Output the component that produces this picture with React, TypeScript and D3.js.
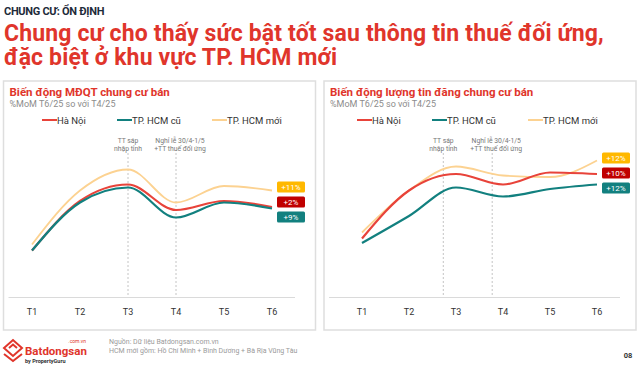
import React from 'react'
import { scaleLinear, line, curveMonotoneX } from 'd3'

const months = ['T1', 'T2', 'T3', 'T4', 'T5', 'T6']
const seriesNames = ['Hà Nội', 'TP. HCM cũ', 'TP. HCM mới']
const seriesColors = ['#e8433a', '#12807f', '#fcd291']
const badgeColors = ['#c00000', '#12807f', '#ffb800']

// index values (axis is hidden)
const priceHaNoi = [31, 64, 75, 58, 64, 60]
const priceHcmOld = [31, 63, 73, 53, 63, 59]
const priceHcmNew = [35, 71, 85, 63, 74, 71]
const priceBadges = ['+2%', '+9%', '+11%']

const listHaNoi = [39, 71, 82, 75, 83, 82]
const listHcmOld = [36, 54, 73, 67, 72, 75]
const listHcmNew = [43, 71, 87, 81, 80, 91]
const listBadges = ['+10%', '+12%', '+12%']

const notePositions = [2, 3]
const notePositionsRight = [1.73, 2.77]
const noteLeft = ['TT sáp', 'nhập tỉnh']
const noteRight = ['Nghỉ lễ 30/4-1/5', '+TT thuế đối ứng']

const font = 'Roboto, "Noto Sans", sans-serif'

function Panel({ x0, title, series, badges, notes, xStart, xEnd, legendX }) {
  const x = scaleLinear().domain([0, months.length - 1]).range([xStart, xEnd])
  const y = scaleLinear().domain([0, 100]).range([297, 147])
  const gen = line<number>()
    .x((d, i) => x(i))
    .y((d) => y(d))
    .curve(curveMonotoneX)

  // badges stacked around the mean of the line ends
  const ends = series.map((s) => y(s[s.length - 1]))
  const mean = ends.reduce((a, b) => a + b, 0) / ends.length
  const order = ends.map((v, i) => i).sort((a, b) => ends[a] - ends[b])
  const badgeY = []
  order.forEach((idx, k) => {
    badgeY[idx] = mean + (k - (order.length - 1) / 2) * 15
  })

  const drawOrder = [2, 0, 1]

  return (
    <g>
      <rect x={x0} y={81} width={312} height={249} fill="#fff" stroke="#dedede" strokeWidth={1.5} />
      <text x={x0 + 6} y={96} fontSize={11.5} fontWeight={700} fill="#e0352b">{title}</text>
      <text x={x0 + 6} y={107} fontSize={9} fill="#8c8c8c">%MoM T6/25 so với T4/25</text>
      {seriesNames.map((n, i) => (
        <g key={n} transform={`translate(${legendX[i]},120)`}>
          <line x1={0} x2={15} y1={0} y2={0} stroke={seriesColors[i]} strokeWidth={2} />
          <text x={15} y={3.5} fontSize={9.5} fill="#333">{n}</text>
        </g>
      ))}
      <line x1={x0 + 5} x2={xEnd + 23} y1={297.5} y2={297.5} stroke="#dadada" strokeWidth={1} />
      {notes.map((p, i) => (
        <g key={i}>
          <line x1={x(p)} x2={x(p)} y1={153} y2={297} stroke="#b5b5b5" strokeWidth={0.8} strokeDasharray="2,2" />
          <text x={x(p) + (i === 0 ? 0 : 4)} y={143} fontSize={6.8} fill="#777" textAnchor="middle">
            {(i === 0 ? noteLeft : noteRight)[0]}
          </text>
          <text x={x(p) + (i === 0 ? 0 : 4)} y={150.5} fontSize={6.8} fill="#777" textAnchor="middle">
            {(i === 0 ? noteLeft : noteRight)[1]}
          </text>
        </g>
      ))}
      {drawOrder.map((i) => (
        <path key={i} d={gen(series[i])} fill="none" stroke={seriesColors[i]} strokeWidth={i === 2 ? 1.8 : 2.2} />
      ))}
      {months.map((m, i) => (
        <text key={m} x={x(i)} y={315} fontSize={9} fill="#333" textAnchor="middle">{m}</text>
      ))}
      {badges.map((b, i) => (
        <g key={i} transform={`translate(${xEnd + 5},${badgeY[i]})`}>
          <rect x={0} y={-5.5} width={28} height={11} rx={1.5} fill={badgeColors[i]} />
          <text x={14} y={3} fontSize={8} fill="#fff" textAnchor="middle">{b}</text>
        </g>
      ))}
    </g>
  )
}

export default function App() {
  return (
    <svg
      width={640}
      height={368}
      style={{ position: 'absolute', left: 0, top: 0, background: '#fff', fontFamily: font }}
    >
      <text x={4} y={15} fontSize={11} fontWeight={700} fill="#1d2b3a" letterSpacing={-0.3}>CHUNG CƯ: ỔN ĐỊNH</text>
      <text x={4} y={41} fontSize={23} fontWeight={700} fill="#e0352b" letterSpacing={0.15}>
        Chung cư cho thấy sức bật tốt sau thông tin thuế đối ứng,
      </text>
      <text x={4} y={65} fontSize={23} fontWeight={700} fill="#e0352b" letterSpacing={0.15}>
        đặc biệt ở khu vực TP. HCM mới
      </text>

      <Panel
        x0={3.5}
        title="Biến động MĐQT chung cư bán"
        series={[priceHaNoi, priceHcmOld, priceHcmNew]}
        badges={priceBadges}
        notes={notePositions}
        xStart={32}
        xEnd={272}
        legendX={[42, 117, 212]}
      />
      <Panel
        x0={324}
        title="Biến động lượng tin đăng chung cư bán"
        series={[listHaNoi, listHcmOld, listHcmNew]}
        badges={listBadges}
        notes={notePositionsRight}
        xStart={362}
        xEnd={597}
        legendX={[357, 432, 528]}
      />

      <g transform="translate(4,340)" fill="none" stroke="#e0352b" strokeWidth={2}>
        <path d="M0,8 L9,0 L18,8 L9,16 Z" />
        <path d="M0,14 L9,21 L18,14" />
        <path d="M5,8 L9,4.5 L13,8" />
      </g>
      <text x={25} y={355} fontSize={11.5} fontWeight={700} fill="#e0352b">Batdongsan</text>
      <text x={86} y={343} fontSize={5} fill="#e0352b" textAnchor="end">.com.vn</text>
      <text x={25} y={363} fontSize={5.5} fontWeight={700} fill="#333">by PropertyGuru</text>
      <text x={109} y={344} fontSize={7} fill="#9a9a9a">Nguồn: Dữ liệu Batdongsan.com.vn</text>
      <text x={109} y={353} fontSize={7} fill="#9a9a9a">HCM mới gồm: Hồ Chí Minh + Bình Dương + Bà Rịa Vũng Tàu</text>
      <text x={628} y={358} fontSize={7.5} fontWeight={700} fill="#333" textAnchor="middle">08</text>
    </svg>
  )
}
